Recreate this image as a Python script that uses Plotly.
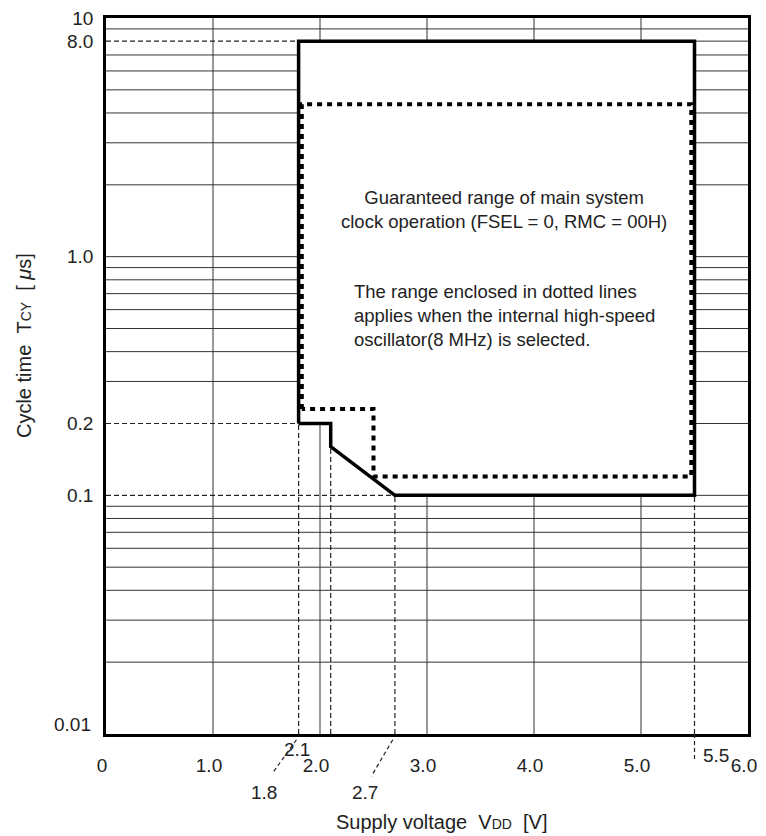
import plotly.graph_objects as go

# Achsenwerte
x_ticks = [0, 1, 2, 3, 4, 5, 6]
x_ticktext = ["0", "1.0", "2.0", "3.0", "4.0", "5.0", "6.0"]
y_ticks = [0.1, 0.2, 1.0, 8.0, 10]
y_ticktext = ["0.1", "0.2", "1.0", "8.0", "10"]

# Garantierter Bereich (durchgezogene Linie)
bereich_vdd = [1.8, 1.8, 5.5, 5.5, 2.7, 2.1, 2.1, 1.8]
bereich_tcy = [0.2, 8.0, 8.0, 0.1, 0.1, 0.16, 0.2, 0.2]

# Bereich interner Oszillator 8 MHz (gepunktet)
osz_vdd = [1.83, 1.83, 5.47, 5.47, 2.5, 2.5, 1.83]
osz_tcy = [0.23, 4.35, 4.35, 0.12, 0.12, 0.23, 0.23]

# Hilfslinien (gestrichelt)
hilf_h_tcy = [8.0, 0.2, 0.1]
hilf_h_vdd_ende = [1.8, 1.8, 2.7]
hilf_v_vdd = [1.8, 2.1, 2.7, 5.5]
hilf_v_tcy_ende = [0.2, 0.16, 0.1, 0.1]

# Gitter
gitter_x = [1, 2, 3, 4, 5]
gitter_y = [m * 10 ** e for e in (-2, -1, 0) for m in range(2, 10)] + [0.1, 1.0]

FONT = "Liberation Sans, Arial, sans-serif"
TXT = "#222"
SP = "\u00a0\u00a0"

fig = go.Figure()

# Gitterlinien (wo gestrichelte Hilfslinien liegen, erst danach beginnen)
gx, gy = [], []
for v in gitter_x:
    gx += [v, v, None]
    gy += [0.01, 10, None]
for t in gitter_y:
    start = 0
    for ht, he in zip(hilf_h_tcy, hilf_h_vdd_ende):
        if abs(t - ht) < 1e-9:
            start = he
    gx += [start, 6, None]
    gy += [t, t, None]
fig.add_trace(go.Scatter(x=gx, y=gy, mode="lines", line=dict(color="#333", width=1),
                         hoverinfo="skip", showlegend=False))

# Bereich weiß füllen
fig.add_trace(go.Scatter(x=bereich_vdd, y=bereich_tcy, mode="lines", fill="toself",
                         fillcolor="white", line=dict(width=0), hoverinfo="skip",
                         showlegend=False))

# Hilfslinien
hx, hy = [], []
for t, e in zip(hilf_h_tcy, hilf_h_vdd_ende):
    hx += [0, e, None]
    hy += [t, t, None]
for v, e in zip(hilf_v_vdd, hilf_v_tcy_ende):
    hx += [v, v, None]
    hy += [0.01, e, None]
fig.add_trace(go.Scatter(x=hx, y=hy, mode="lines",
                         line=dict(color=TXT, width=1.2, dash="5px,3px"),
                         hoverinfo="skip", showlegend=False))

# Oszillatorbereich gepunktet
fig.add_trace(go.Scatter(x=osz_vdd, y=osz_tcy, mode="lines",
                         line=dict(color="black", width=4, dash="5px,5px"),
                         showlegend=False))

# Garantierter Bereich
fig.add_trace(go.Scatter(x=bereich_vdd, y=bereich_tcy, mode="lines",
                         line=dict(color="black", width=3.5), showlegend=False))

# Hilfslinien unterhalb der Achse
dash_line = dict(color=TXT, width=1.2, dash="4px,3px")
fig.add_shape(type="line", xref="x", yref="paper", x0=1.78, y0=-0.008, x1=1.56, y1=-0.054,
              line=dash_line)
fig.add_shape(type="line", xref="x", yref="paper", x0=2.68, y0=-0.008, x1=2.48, y1=-0.059,
              line=dash_line)
fig.add_shape(type="line", xref="x", yref="paper", x0=5.5, y0=0, x1=5.5, y1=-0.036,
              line=dash_line)


def beschriftung(text, x, y, xref="paper", yref="paper", size=19, **kw):
    kw.setdefault("xanchor", "center")
    kw.setdefault("yanchor", "middle")
    fig.add_annotation(text=text, x=x, y=y, xref=xref, yref=yref, showarrow=False,
                       font=dict(family=FONT, size=size, color=TXT), **kw)


# Sonderbeschriftungen x-Achse
for txt, xv, yp in [("1.8", 1.48, -0.082), ("2.7", 2.42, -0.082),
                    ("2.1", 1.785, -0.022), ("5.5", 5.70, -0.03)]:
    beschriftung(txt, xv, yp, xref="x")

# 0.01 etwas über der Achse
beschriftung("0.01", -0.02, 0.0126, xanchor="right")

# Texte im Bereich
beschriftung("Guaranteed range of main system<br>clock operation (FSEL = 0, RMC = 00H)",
             3.72, 0.733, xref="x", size=18.5, align="center")
beschriftung("The range enclosed in dotted lines<br>applies when the internal high-speed"
             "<br>oscillator(8 MHz) is selected.",
             0.383, 0.585, size=18.5, xanchor="left", align="left")

# Achsentitel
beschriftung("Supply voltage" + SP + "V<span style='font-size:14px'>DD</span>" + SP + "[V]",
             0.522, -0.123, size=20)
beschriftung("Cycle time" + SP + "T<span style='font-size:14px'>CY</span>" + SP
             + "[ <i>\u03bc</i>s]", -0.128, 0.543, size=20, textangle=-90)

# Seite hat 8px Rand -> Figur entsprechend kleiner
fig.update_layout(
    width=758,
    height=828,
    margin=dict(l=98, r=18, t=10, b=102),
    plot_bgcolor="white",
    paper_bgcolor="white",
    showlegend=False,
    xaxis=dict(
        range=[0, 6],
        showgrid=False,
        zeroline=False,
        showline=True,
        mirror=True,
        linecolor="black",
        linewidth=2.5,
        tickvals=x_ticks,
        ticktext=x_ticktext,
        ticks="",
        ticklabelstandoff=12,
        ticklabelshift=-4,
        ticklabeloverflow="allow",
        tickfont=dict(family=FONT, size=19, color=TXT),
        automargin=False,
    ),
    yaxis=dict(
        type="log",
        range=[-2, 1],
        showgrid=False,
        zeroline=False,
        showline=True,
        mirror=True,
        linecolor="black",
        linewidth=2.5,
        tickvals=y_ticks,
        ticktext=y_ticktext,
        ticks="",
        ticklabelstandoff=6,
        ticklabeloverflow="allow",
        tickfont=dict(family=FONT, size=19, color=TXT),
        automargin=False,
    ),
)

fig.write_html("out.html")
